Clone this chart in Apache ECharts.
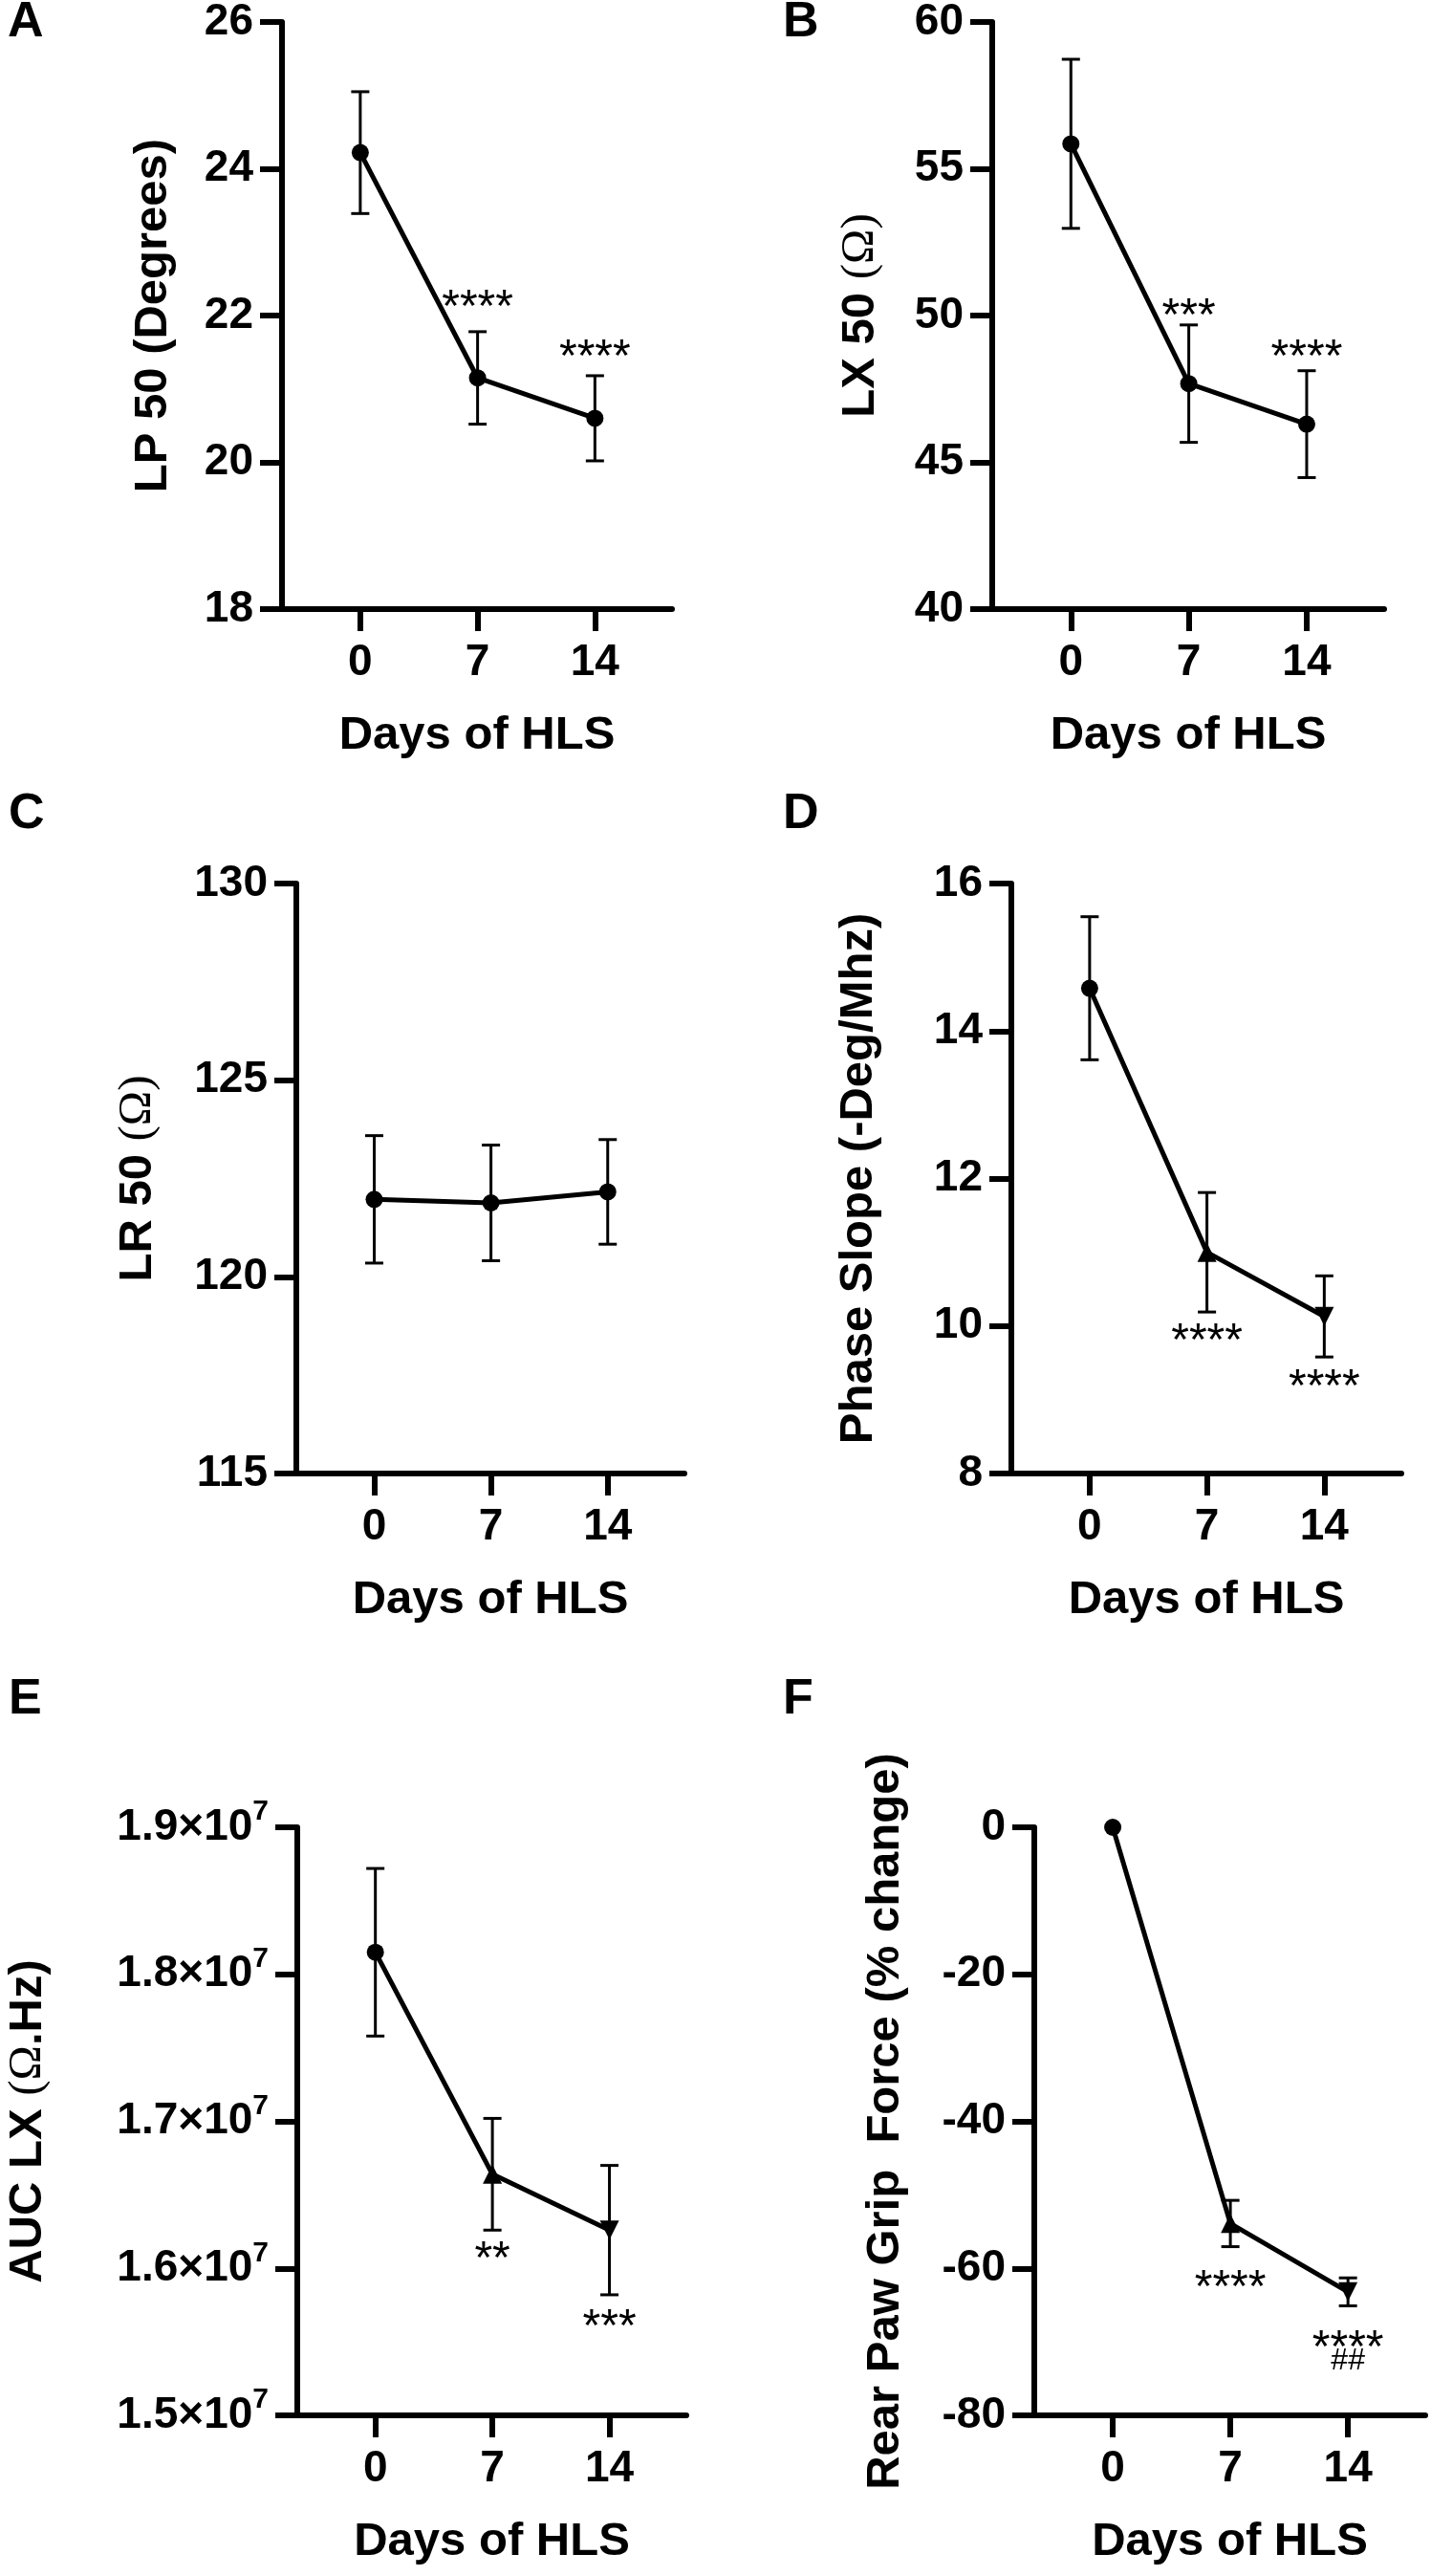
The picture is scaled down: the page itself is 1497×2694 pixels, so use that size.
<!DOCTYPE html>
<html>
<head>
<meta charset="utf-8">
<title>HLS panels</title>
<script src="https://cdn.jsdelivr.net/npm/echarts@6/dist/echarts.min.js"></script>
<style>
  html, body { margin: 0; padding: 0; background: #fff; }
  #chart { width: 1497px; height: 2694px; }
</style>
</head>
<body>
<div id="chart"></div>
<script>
// days of hindlimb suspension
const days = [0, 7, 14]

// A - LP 50 (Degrees)
const lp50Mean = [24.22, 21.15, 20.6]
const lp50Sem = [0.83, 0.63, 0.58]
const lp50Marks = [['****', 7, 22.25], ['****', 14, 21.57]]

// B - LX 50
const lx50Mean = [55.85, 47.68, 46.3]
const lx50Sem = [2.88, 2.0, 1.82]
const lx50Marks = [['***', 7, 50.34], ['****', 14, 48.93]]

// C - LR 50
const lr50Mean = [121.97, 121.88, 122.16]
const lr50Sem = [1.62, 1.47, 1.33]
const lr50Marks = []

// D - phase slope
const slopeMean = [14.58, 11.0, 10.13]
const slopeSem = [0.97, 0.81, 0.55]
const slopeMarks = [['****', 7, 9.94], ['****', 14, 9.31]]

// E - AUC LX
const aucMean = [1.815e7, 1.664e7, 1.626e7]
const aucSem = [0.057e7, 0.038e7, 0.044e7]
const aucMarks = [['**', 7, 1.6135e7], ['***', 14, 1.567e7]]

// F - rear paw grip force
const gripMean = [0, -53.9, -63.2]
const gripSem = [0, 3.15, 1.9]
const gripMarks = [['****', 7, -61.2], ['****', 14, -69.4], ['##', 14, -72.6]]

const FONT = '"Liberation Sans", Arial, sans-serif'
const SERIF = '"Liberation Serif", "Times New Roman", serif'

const panels = [
  { letter: 'A', left: 295, top: 21, width: 408, height: 616, min: 18, max: 26, step: 2,
    name: '{b|LP 50 (Degrees)}', nameGap: 110, mean: lp50Mean, sem: lp50Sem, marks: lp50Marks, tri: false },
  { letter: 'B', left: 1038, top: 21, width: 410, height: 616, min: 40, max: 60, step: 5,
    name: '{b|LX 50 }{o|(Ω)}', nameGap: 113, mean: lx50Mean, sem: lx50Sem, marks: lx50Marks, tri: false },
  { letter: 'C', left: 310, top: 924, width: 406, height: 617, min: 115, max: 130, step: 5,
    name: '{b|LR 50 }{o|(Ω)}', nameGap: 141, mean: lr50Mean, sem: lr50Sem, marks: lr50Marks, tri: false },
  { letter: 'D', left: 1058, top: 924, width: 408, height: 617, min: 8, max: 16, step: 2,
    name: '{b|Phase Slope (-Deg/Mhz)}', nameGap: 135, mean: slopeMean, sem: slopeSem, marks: slopeMarks, tri: true },
  { letter: 'E', left: 311, top: 1911, width: 407, height: 615, min: 1.5e7, max: 1.9e7, step: 1e6,
    name: '{b|AUC LX }{o|(Ω}{b|.Hz)}', nameGap: 257, mean: aucMean, sem: aucSem, marks: aucMarks, tri: true, sci: true },
  { letter: 'F', left: 1082, top: 1911, width: 409, height: 615, min: -80, max: 0, step: 20,
    name: '{b|Rear Paw Grip  Force (% change)}', nameGap: 131, mean: gripMean, sem: gripSem, marks: gripMarks, tri: true },
]

const letterPos = {
  A: [8, 24], B: [819, 24], C: [9, 852], D: [819, 852], E: [9, 1778], F: [819, 1778],
}

const X_MIN = -4.67
const X_MAX = 18.6

const axisLine = { show: true, onZero: false, lineStyle: { color: '#000', width: 6 } }
const axisTick = { show: true, length: 23, lineStyle: { color: '#000', width: 6 } }

const grids = []
const xAxes = []
const yAxes = []
const series = []

panels.forEach((p, i) => {
  grids.push({ left: p.left, top: p.top, width: p.width, height: p.height, containLabel: false })

  xAxes.push({
    type: 'value', gridIndex: i, min: X_MIN, max: X_MAX,
    name: 'Days of HLS', nameLocation: 'middle', nameGap: 108,
    nameTextStyle: { color: '#000', fontSize: 49, fontWeight: 'bold', fontFamily: FONT },
    axisLine: axisLine,
    axisTick: Object.assign({ customValues: days }, axisTick),
    axisLabel: { customValues: days, margin: 33, color: '#000', fontSize: 46, fontWeight: 'bold', fontFamily: FONT },
    splitLine: { show: false },
  })

  const yLabel = { margin: 30, color: '#000', fontSize: 46, fontWeight: 'bold', fontFamily: FONT }
  if (p.sci) {
    yLabel.formatter = v => '{m|' + (v / 1e7).toFixed(1) + '×10}{s|7}'
    yLabel.rich = {
      m: { fontSize: 46, fontWeight: 'bold', fontFamily: FONT, color: '#000', lineHeight: 62 },
      s: { fontSize: 30, fontWeight: 'bold', fontFamily: FONT, color: '#000', verticalAlign: 'top', lineHeight: 34 },
    }
  }

  yAxes.push({
    type: 'value', gridIndex: i, min: p.min, max: p.max, interval: p.step,
    name: p.name, nameLocation: 'middle', nameGap: p.nameGap,
    nameTextStyle: {
      rich: {
        b: { fontSize: 49, fontWeight: 'bold', fontFamily: FONT, color: '#000' },
        o: { fontSize: 49, fontWeight: 'normal', fontFamily: SERIF, color: '#000' },
      },
    },
    axisLine: axisLine,
    axisTick: axisTick,
    axisLabel: yLabel,
    splitLine: { show: false },
  })

  // error bars (mean ± SEM)
  series.push({
    type: 'custom', xAxisIndex: i, yAxisIndex: i, z: 3,
    data: days.map((d, k) => [d, p.mean[k] - p.sem[k], p.mean[k] + p.sem[k]]),
    encode: { x: 0, y: [1, 2] },
    renderItem: (params, api) => {
      const x = api.value(0)
      const lo = api.value(1)
      const hi = api.value(2)
      if (hi === lo) return null
      const a = api.coord([x, hi])
      const b = api.coord([x, lo])
      const w = 9.5
      const st = { stroke: '#000', lineWidth: 3 }
      return {
        type: 'group',
        children: [
          { type: 'line', shape: { x1: a[0], y1: a[1], x2: b[0], y2: b[1] }, style: st },
          { type: 'line', shape: { x1: a[0] - w, y1: a[1], x2: a[0] + w, y2: a[1] }, style: st },
          { type: 'line', shape: { x1: b[0] - w, y1: b[1], x2: b[0] + w, y2: b[1] }, style: st },
        ],
      }
    },
  })

  // mean line with markers
  series.push({
    type: 'line', xAxisIndex: i, yAxisIndex: i, z: 4,
    lineStyle: { color: '#000', width: 5 },
    itemStyle: { color: '#000' },
    data: days.map((d, k) => {
      const item = { value: [d, p.mean[k]], symbol: 'circle', symbolSize: 18 }
      if (p.tri && k > 0) {
        item.symbol = 'triangle'
        item.symbolSize = 20
        item.symbolRotate = k === 2 ? 180 : 0
      }
      return item
    }),
  })

  // significance marks
  series.push({
    type: 'custom', xAxisIndex: i, yAxisIndex: i, z: 5,
    data: p.marks.map(m => [m[1], m[2]]),
    encode: { x: 0, y: 1 },
    renderItem: (params, api) => {
      const txt = p.marks[params.dataIndex][0]
      const pt = api.coord([api.value(0), api.value(1)])
      const hash = txt.indexOf('#') >= 0
      return {
        type: 'text',
        style: {
          text: txt,
          x: pt[0],
          y: pt[1] + (hash ? 0 : 12),
          align: 'center',
          verticalAlign: 'middle',
          fontSize: hash ? 32 : 48,
          fontFamily: FONT,
          fill: '#000',
        },
      }
    },
  })
})

const graphic = panels.map(p => ({
  type: 'text',
  x: letterPos[p.letter][0],
  y: letterPos[p.letter][1],
  style: {
    text: p.letter,
    fontSize: 52,
    fontWeight: 'bold',
    fontFamily: FONT,
    fill: '#000',
    verticalAlign: 'middle',
  },
}))

const chart = echarts.init(document.getElementById('chart'), null, { renderer: 'canvas' })
chart.setOption({
  backgroundColor: '#fff',
  animation: false,
  grid: grids,
  xAxis: xAxes,
  yAxis: yAxes,
  series: series,
  graphic: graphic,
})
</script>
</body>
</html>
